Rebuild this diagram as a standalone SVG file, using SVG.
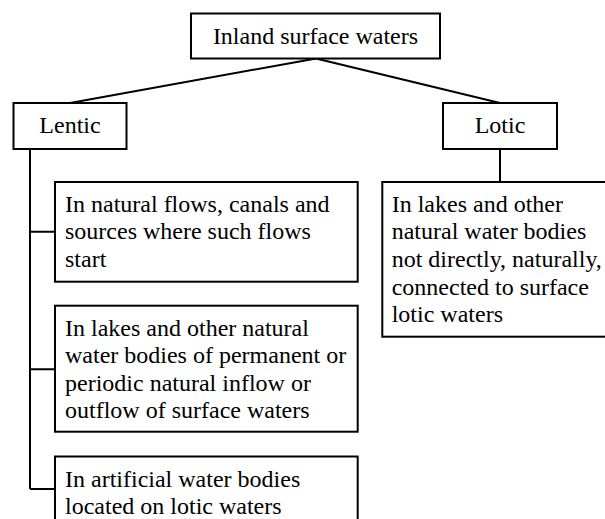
<svg xmlns="http://www.w3.org/2000/svg" width="605" height="519" viewBox="0 0 605 519">
<style>
.box{fill:#fff;stroke:#000;stroke-width:2}
.t{font-family:"Liberation Serif","Times New Roman",serif;font-size:24px;fill:#000}
.c{text-anchor:middle}
.ln{fill:none;stroke:#000;stroke-width:2}
</style>
<rect width="605" height="519" fill="#fff"/>
<g id="connectors">
<path class="ln" d="M316 58.5 L70 103 M316 58.5 L500 103"/>
<path class="ln" d="M30 149 V489 M30 231.7 H55 M30 369.3 H55 M30 489 H55"/>
<path class="ln" d="M500 149 V182"/>
</g>
<g id="n-root">
<rect class="box" x="191" y="13.5" width="249" height="45"/>
<text class="t c" x="315.5" y="44.3">Inland surface waters</text>
</g>
<g id="n-lentic">
<rect class="box" x="13.5" y="103" width="113" height="46"/>
<text class="t c" x="70" y="133.3">Lentic</text>
</g>
<g id="n-lotic">
<rect class="box" x="443" y="103" width="114" height="46"/>
<text class="t c" x="500" y="133.3">Lotic</text>
</g>
<g id="n-flows">
<rect class="box" x="55" y="182" width="302.7" height="99.7"/>
<text class="t" x="65" y="211.7">In natural flows, canals and</text>
<text class="t" x="65" y="239.3">sources where such flows</text>
<text class="t" x="65" y="266.8">start</text>
</g>
<g id="n-lakes">
<rect class="box" x="55" y="305.7" width="302.7" height="126"/>
<text class="t" x="65" y="335.7">In lakes and other natural</text>
<text class="t" x="65" y="363.3">water bodies of permanent or</text>
<text class="t" x="65" y="390.7">periodic natural inflow or</text>
<text class="t" x="65" y="418.2">outflow of surface waters</text>
</g>
<g id="n-artificial">
<rect class="box" x="55" y="456.5" width="302.7" height="90"/>
<text class="t" x="65" y="486.7">In artificial water bodies</text>
<text class="t" x="65" y="514.2">located on lotic waters</text>
</g>
<g id="n-lotic-lakes">
<rect class="box" x="382.3" y="182" width="240" height="154.7"/>
<text class="t" x="391.7" y="211.7">In lakes and other</text>
<text class="t" x="391.7" y="239.3">natural water bodies</text>
<text class="t" x="391.7" y="266.8">not directly, naturally,</text>
<text class="t" x="391.7" y="294.5">connected to surface</text>
<text class="t" x="391.7" y="322.2">lotic waters</text>
</g>
</svg>
